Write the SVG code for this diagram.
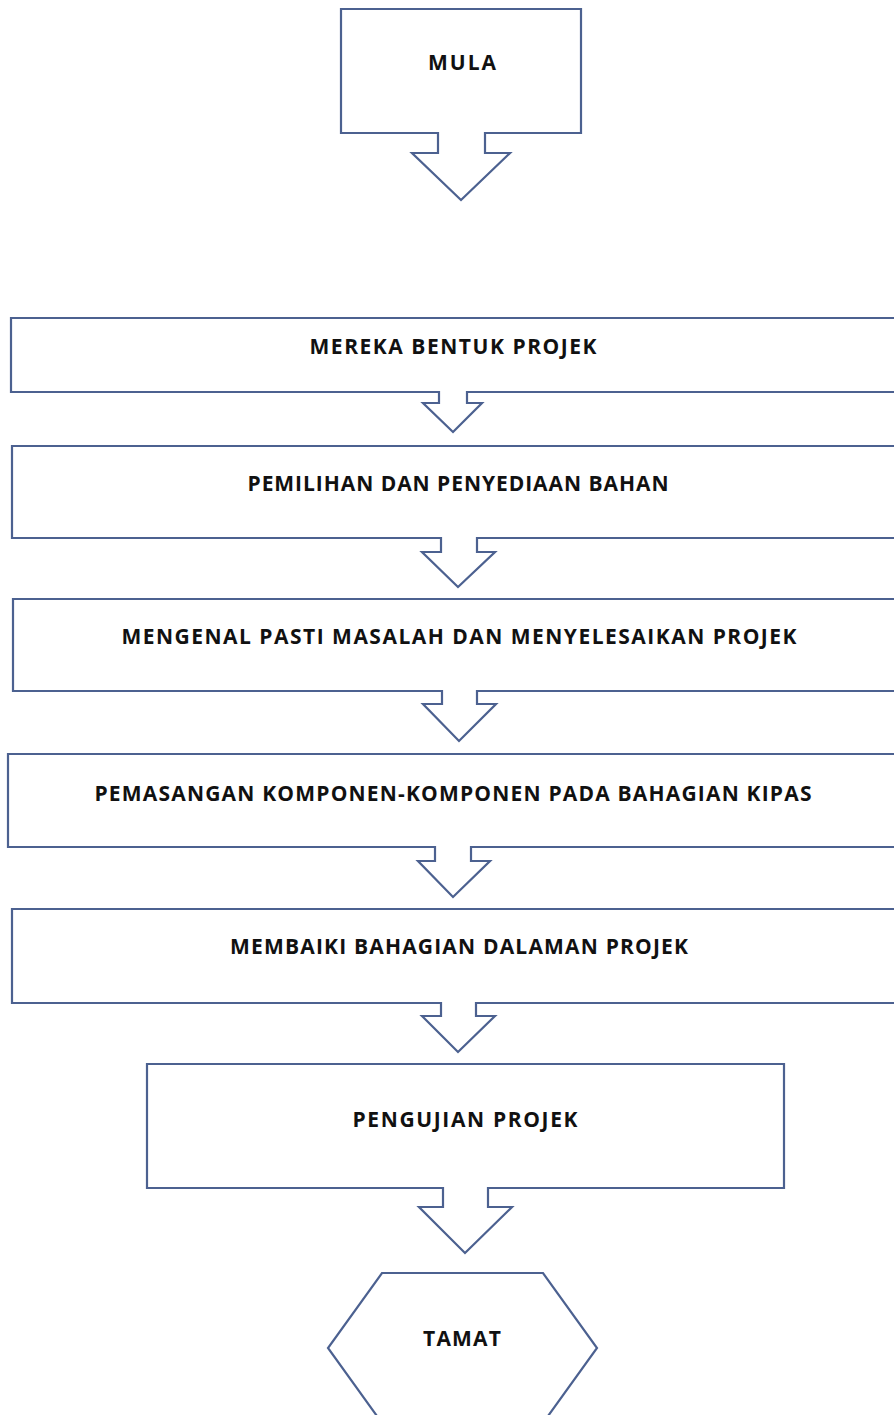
<svg xmlns="http://www.w3.org/2000/svg" width="894" height="1415" viewBox="0 0 894 1415">
<style>
.shape{fill:#ffffff;stroke:#4c6190;stroke-width:2.2;stroke-linejoin:miter}
.lbl{font-family:"Open Sans","DejaVu Sans",sans-serif;font-weight:700;font-size:21px;fill:#111111;text-anchor:middle}
</style>
<rect x="0" y="0" width="894" height="1415" fill="#ffffff"/>
<g id="mula">
<path class="shape" d="M438,133 H341 V9 H581 V133 H485 V153 H510 L461,200 L412,153 H438 Z"/>
<text class="lbl" x="462" y="70" textLength="68" lengthAdjust="spacing">MULA</text>
</g>
<g id="mereka">
<path class="shape" d="M439,392 H11 V318 H900 V392 H467 V403 H482 L453,432 L423,403 H439 Z"/>
<text class="lbl" x="453" y="354" textLength="287" lengthAdjust="spacing">MEREKA BENTUK PROJEK</text>
</g>
<g id="pemilihan">
<path class="shape" d="M441,538 H12 V446 H900 V538 H477 V552 H495 L458,587 L422,552 H441 Z"/>
<text class="lbl" x="458" y="491" textLength="421" lengthAdjust="spacing">PEMILIHAN DAN PENYEDIAAN BAHAN</text>
</g>
<g id="mengenal">
<path class="shape" d="M442,691 H13 V599 H900 V691 H477 V704 H496 L459,741 L423,704 H442 Z"/>
<text class="lbl" x="459" y="644" textLength="675" lengthAdjust="spacing">MENGENAL PASTI MASALAH DAN MENYELESAIKAN PROJEK</text>
</g>
<g id="pemasangan">
<path class="shape" d="M435,847 H8 V754 H900 V847 H471 V861 H490 L453,897 L418,861 H435 Z"/>
<text class="lbl" x="453" y="801" textLength="717" lengthAdjust="spacing">PEMASANGAN KOMPONEN-KOMPONEN PADA BAHAGIAN KIPAS</text>
</g>
<g id="membaiki">
<path class="shape" d="M441,1003 H12 V909 H900 V1003 H476 V1016 H495 L458,1052 L422,1016 H441 Z"/>
<text class="lbl" x="459" y="954" textLength="458" lengthAdjust="spacing">MEMBAIKI BAHAGIAN DALAMAN PROJEK</text>
</g>
<g id="pengujian">
<path class="shape" d="M443,1188 H147 V1064 H784 V1188 H488 V1207 H512 L465,1253 L419,1207 H443 Z"/>
<text class="lbl" x="465" y="1127" textLength="225" lengthAdjust="spacing">PENGUJIAN PROJEK</text>
</g>
<g id="tamat">
<path class="shape" d="M382,1273 H543 L597,1348 L543,1423 H382 L328,1348 Z"/>
<text class="lbl" x="462" y="1346" textLength="78" lengthAdjust="spacing">TAMAT</text>
</g>
<g id="connectors"></g>
</svg>
